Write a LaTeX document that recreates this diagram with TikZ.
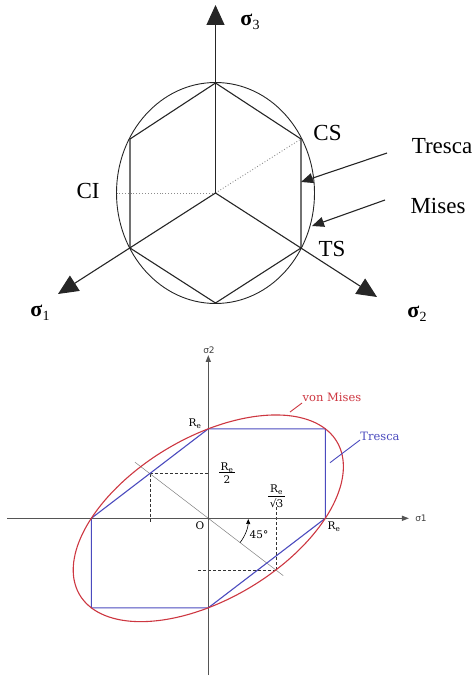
\documentclass[tikz,border=0pt]{standalone}
\usepackage{fontspec}
\setmainfont{Liberation Serif}
\newfontfamily\dvs{DejaVu Serif}
\newfontfamily\dvsans{DejaVu Sans}
\usetikzlibrary{arrows.meta}
\definecolor{vmred}{RGB}{205,55,65}
\definecolor{trblue}{RGB}{75,75,190}
\definecolor{axgray}{RGB}{85,85,85}
\begin{document}
\begin{tikzpicture}[x=1pt,y=-1pt,
  topline/.style={line width=1.1pt, draw=black!85},
  bigarrow/.style={-{Triangle[length=20pt,width=18pt]}},
  smallarrow/.style={-{Triangle[length=12pt,width=10pt]}},
  toplabel/.style={font=\fontsize{23}{23}\selectfont, inner sep=0pt},
  siglabel/.style={font=\fontsize{22}{22}\selectfont, inner sep=0pt},
  dotline/.style={draw=black!45, line width=0.9pt, dotted},
  axis2/.style={draw=axgray, line width=1.3pt, -{Triangle[length=7pt,width=5pt]}},
  dash2/.style={draw=black!80, line width=0.5pt, dash pattern=on 3pt off 2pt},
  botlabel/.style={font=\dvs\fontsize{10.5}{10.5}\selectfont, inner sep=0pt},
  leader/.style={line width=0.9pt}
]
\useasboundingbox (0,0) rectangle (475,676);

% ---------------- top figure ----------------
\coordinate (C) at (215.5,193);
\coordinate (H1) at (215.5,83);
\coordinate (H2) at (301,139);
\coordinate (H3) at (301,248);
\coordinate (H4) at (215.5,303);
\coordinate (H5) at (130,248);
\coordinate (H6) at (130,139);
\coordinate (CIp) at (116.5,193);
\coordinate (T3) at (215.5,5);
\coordinate (T1) at (58,294);
\coordinate (T2) at (377,297);

\draw[topline, line width=0.9pt] (C) ellipse [x radius=99pt, y radius=110.5pt];
\draw[topline] (H1) -- (H2) -- (H3) -- (H4) -- (H5) -- (H6) -- cycle;
\draw[dotline] (C) -- (CIp);
\draw[dotline] (C) -- (H2);
\draw[topline, bigarrow] (C) -- (T3);
\draw[topline, bigarrow] (C) -- (T1);
\draw[topline, bigarrow] (C) -- (T2);

\node[siglabel] (s3) at (250,22) {\bfseries σ\kern0.5pt\raisebox{-4pt}{\fontsize{14}{14}\selectfont\mdseries 3}};
\node[siglabel] (s1) at (40,313) {\bfseries σ\kern0.5pt\raisebox{-4pt}{\fontsize{14}{14}\selectfont\mdseries 1}};
\node[siglabel] (s2) at (417,314) {\bfseries σ\kern0.5pt\raisebox{-4pt}{\fontsize{14}{14}\selectfont\mdseries 2}};

\node[toplabel] (CS) at (327.5,132.5) {CS};
\node[toplabel] (CI) at (88,191) {CI};
\node[toplabel] (TS) at (332,249) {TS};
\node[toplabel] (Tr) at (442,146) {Tresca};
\node[toplabel] (Mi) at (438,206) {Mises};
\coordinate (TrA) at (387,153);
\coordinate (TrB) at (301,182);
\coordinate (MiA) at (385,200);
\coordinate (MiB) at (312,226);
\draw[topline, smallarrow] (TrA) -- (TrB);
\draw[topline, smallarrow] (MiA) -- (MiB);

% ---------------- bottom figure ----------------
\begin{scope}[shift={(208.3,518.3)}, x={(117pt,0pt)}, y={(0pt,89.5pt)}]
  \coordinate (O) at (0,0);
  \coordinate (Y0) at (0,-1.751);
  \coordinate (Y1) at (0,1.825);
  \coordinate (X0) at (-1.72,0);
  \coordinate (X1) at (1.715,0);
  \coordinate (P1) at (0,1);
  \coordinate (P2) at (1,1);
  \coordinate (P3) at (1,0);
  \coordinate (P4) at (0,-1);
  \coordinate (P5) at (-1,-1);
  \coordinate (P6) at (-1,0);
  \coordinate (A) at (-0.5,0.5);
  \coordinate (Ah) at (0,0.5);
  \coordinate (Av) at (-0.5,-0.056);
  \coordinate (B) at (0.5774,-0.5774);
  \coordinate (Bv) at (0.5774,0.185);
  \coordinate (Bh) at (-0.088,-0.5774);
  \coordinate (D0) at (-0.627,0.627);
  \coordinate (D1) at (0.64,-0.64);

  \draw[dash2] (A) -- (Ah);
  \draw[dash2] (A) -- (Av);
  \draw[dash2] (B) -- (Bv);
  \draw[dash2] (B) -- (Bh);
  \draw[draw=black!50, line width=0.5pt] (D0) -- (D1);
  \draw[axis2] (X0) -- (X1);
  \draw[axis2] (Y0) -- (Y1);
  \draw[trblue, line width=1.1pt] (P1) -- (P2) -- (P3) -- (P4) -- (P5) -- (P6) -- cycle;
  \draw[vmred, line width=1.1pt] plot[variable=\t, domain=0:360, samples=145, smooth]
     ({cos(\t)+sin(\t)/sqrt(3)}, {cos(\t)-sin(\t)/sqrt(3)}) -- cycle;
\end{scope}

\draw[black, line width=0.6pt, -{Triangle[length=5pt,width=4pt]}]
  (O) ++(-37.4:40pt) arc[start angle=-37.4, end angle=-1, radius=40pt];

\node[font=\dvsans\fontsize{9}{9}\selectfont, inner sep=0pt, text=black!75] (ls2) at (209,350) {σ2};
\node[font=\dvsans\fontsize{9}{9}\selectfont, inner sep=0pt, text=black!75] (ls1) at (421,518) {σ1};
\node[botlabel] (lO) at (200,526) {O};
\node[botlabel] (lRe1) at (195,424) {R\textsubscript{e}};
\node[botlabel] (lRe2) at (334,527) {R\textsubscript{e}};
\node[botlabel] (f1n) at (227,467.5) {R\textsubscript{e}};
\node[botlabel] (f1d) at (227,479.5) {2};
\coordinate (f1a) at (219,472.5);
\coordinate (f1b) at (235,472.5);
\draw[line width=0.5pt] (f1a) -- (f1b);
\node[botlabel] (f2n) at (276.5,490) {R\textsubscript{e}};
\node[botlabel] (f2d) at (276.5,503) {√3};
\coordinate (f2a) at (268,496);
\coordinate (f2b) at (285,496);
\draw[line width=0.5pt] (f2a) -- (f2b);
\node[botlabel] (l45) at (259,535) {45°};
\node[botlabel, text=vmred, font=\dvs\fontsize{11.5}{11.5}\selectfont] (lvm) at (332,397) {von Mises};
\node[botlabel, text=trblue, font=\dvs\fontsize{11.5}{11.5}\selectfont] (ltr) at (380,436) {Tresca};
\coordinate (vmA) at (290,412);
\coordinate (vmB) at (302,403);
\coordinate (trA) at (330,462.7);
\coordinate (trB) at (360,440);
\draw[vmred, leader] (vmA) -- (vmB);
\draw[trblue, leader] (trA) -- (trB);
\end{tikzpicture}
\end{document}
